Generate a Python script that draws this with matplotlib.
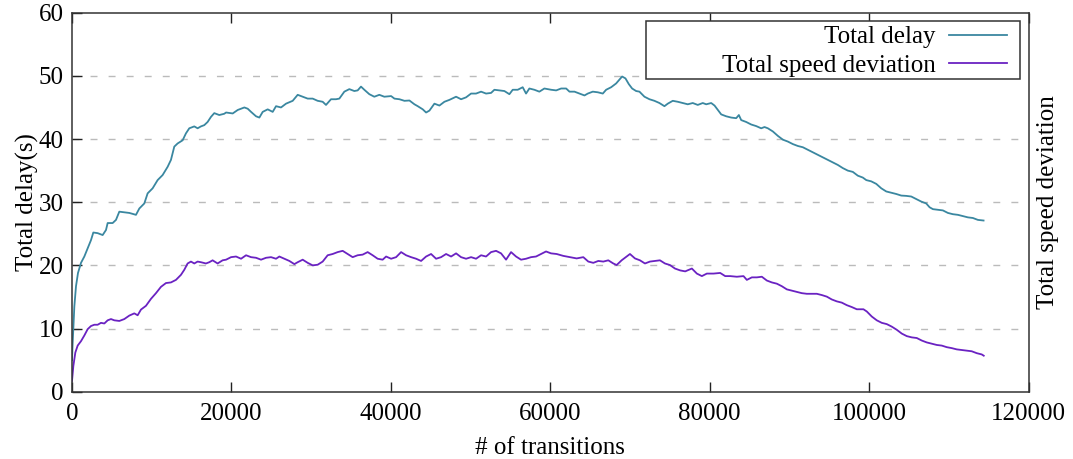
import matplotlib
matplotlib.use('Agg')
import matplotlib.pyplot as plt
from matplotlib.ticker import MultipleLocator
from matplotlib.patches import Rectangle

# Total delay
delay_x = [0, 84, 293, 502, 752, 1129, 1547, 1965, 2383, 2675, 3219, 3846, 4264, 4473, 5100, 5518, 5936, 6563, 7190, 8026,
           8444, 9071, 9489, 10116, 10743, 11370, 11997, 12415, 12833, 13251, 13878, 14296, 14714, 15341, 15759, 16177,
           16595, 17013, 17431, 17849, 18476, 19103, 19327, 20163, 20790, 21626, 22044, 22462, 23089, 23507, 23925,
           24552, 25179, 25597, 26224, 26851, 27687, 28314, 28941, 29568, 30195, 30822, 31449, 31867, 32494, 33121,
           33539, 34166, 34793, 35420, 35838, 36256, 36674, 37301, 37928, 38555, 39182, 40034, 40452, 41079, 41706,
           42333, 42960, 43378, 44005, 44423, 44841, 45468, 46095, 46722, 47349, 48185, 48812, 49439, 50066, 50693,
           51320, 51947, 52574, 52992, 53619, 54246, 54873, 55291, 55918, 56545, 56963, 57381, 58008, 58635, 59262,
           60114, 60741, 61368, 61995, 62413, 63040, 63667, 64294, 64712, 65339, 65966, 66593, 67011, 67638, 68265,
           68683, 69017, 69435, 69853, 70271, 70773, 71191, 71818, 72445, 73072, 73699, 74326, 74744, 75371, 75998,
           76625, 77252, 77879, 78506, 79133, 79567, 80194, 80612, 81030, 81448, 82075, 82702, 83329, 83663, 83956,
           84583, 85210, 85837, 86464, 86882, 87300, 87927, 88554, 89181, 89808, 90435, 91062, 91689, 92316, 92943,
           93570, 94197, 94824, 95451, 96078, 96705, 97332, 97959, 98586, 99213, 99647, 100274, 100901, 101528,
           102155, 102782, 103409, 104036, 104663, 105290, 105917, 106544, 107171, 107589, 108007, 108634, 109261,
           109888, 110515, 111142, 111769, 112396, 113023, 113650, 114361]
delay_y = [5.0, 7.7, 13.5, 16.7, 18.8, 20.4, 21.4, 22.7, 24.0, 25.2, 25.1, 24.8, 25.6, 26.7, 26.7, 27.2, 28.5, 28.4, 28.3, 28.0,
           29.0, 29.8, 31.4, 32.2, 33.5, 34.3, 35.6, 36.7, 38.8, 39.3, 39.8, 40.9, 41.7, 42.0, 41.7, 42.0,
           42.2, 42.7, 43.5, 44.1, 43.8, 44.0, 44.2, 44.05, 44.6, 45.0, 44.8, 44.3, 43.6, 43.4, 44.3,
           44.7, 44.3, 45.2, 45.0, 45.6, 46.05, 47.0, 46.7, 46.4, 46.4, 46.05, 45.9, 45.4, 46.3, 46.3,
           46.4, 47.5, 47.9, 47.6, 47.7, 48.3, 47.8, 47.1, 46.7, 47.0, 46.7, 46.8, 46.4, 46.3, 46.05,
           46.1, 45.5, 45.2, 44.7, 44.2, 44.5, 45.6, 45.3, 45.9, 46.2, 46.7, 46.3, 46.6, 47.2, 47.2,
           47.5, 47.2, 47.3, 47.8, 47.7, 47.6, 47.1, 47.8, 47.8, 48.2, 47.2, 48.0, 47.8, 47.5, 48.0,
           47.8, 47.7, 48.0, 48.0, 47.5, 47.5, 47.2, 46.9, 47.2, 47.5, 47.4, 47.2, 47.8, 48.2, 48.8,
           49.4, 49.9, 49.6, 48.7, 48.0, 47.6, 47.5, 46.7, 46.3, 46.05, 45.7, 45.2, 45.6, 46.05, 45.9,
           45.7, 45.5, 45.7, 45.4, 45.7, 45.5, 45.7, 45.3, 44.6, 43.9, 43.6, 43.4, 43.3, 43.8, 43.0,
           42.7, 42.3, 42.05, 41.7, 41.9, 41.7, 41.2, 40.5, 39.9, 39.6, 39.2, 38.9, 38.7, 38.3, 37.9,
           37.5, 37.1, 36.7, 36.3, 35.9, 35.4, 35.0, 34.8, 34.2, 33.9, 33.5, 33.3, 32.9, 32.2,
           31.7, 31.5, 31.3, 31.05, 31.0, 30.9, 30.5, 30.1, 29.8, 29.2, 28.9, 28.8, 28.7,
           28.3, 28.1, 28.0, 27.8, 27.6, 27.5, 27.2, 27.1]

# Total speed deviation
speed_x = [0, 167, 418, 711, 1129, 1547, 1965, 2383, 2801, 3219, 3637, 4055, 4473, 4891, 5309, 5936, 6563, 7190, 7817, 8235,
           8653, 9280, 9907, 10534, 11161, 11788, 12415, 13042, 13669, 14087, 14505, 14923, 15341, 15759, 16177, 16804,
           17222, 17640, 18267, 18894, 19327, 19954, 20581, 21208, 21835, 22462, 23089, 23716, 24343, 24970, 25597,
           26015, 26642, 27269, 27896, 28314, 28941, 29568, 30195, 30822, 31449, 32076, 32703, 33330, 33957, 34584,
           35211, 35838, 36465, 37092, 37719, 38346, 38973, 39407, 40034, 40661, 41288, 41915, 42542, 43169, 43796,
           44423, 45050, 45677, 46304, 46931, 47558, 48185, 48812, 49439, 50066, 50693, 51320, 51947, 52574, 53201,
           53828, 54455, 55082, 55709, 56336, 56963, 57590, 58217, 58844, 59471, 60098, 60804, 61640, 62476, 63312,
           64148, 64775, 65402, 66029, 66656, 67283, 67910, 68328, 68955, 69582, 70000, 70627, 71254, 71881, 72508,
           73135, 73762, 74389, 75016, 75643, 76304, 76931, 77767, 78394, 79021, 79648, 80484, 81320, 81947, 82574,
           83410, 84246, 84664, 85291, 85918, 86545, 87172, 87799, 88426, 89053, 89680, 90307, 90934, 91561, 92188,
           92815, 93442, 94069, 94696, 95323, 95950, 96577, 97204, 97831, 98458, 99294, 99712, 100339, 100966,
           101593, 102220, 102847, 103474, 104101, 104728, 105355, 105982, 106609, 107236, 107863, 108490, 109117,
           109744, 110371, 110998, 111625, 112252, 112879, 113506, 114133, 114384]
speed_y = [1.7, 4.05, 6.2, 7.3, 8.0, 8.9, 9.9, 10.4, 10.6, 10.6, 10.9, 10.8, 11.3, 11.5, 11.3, 11.2, 11.5, 12.05, 12.4, 12.1,
           13.0, 13.6, 14.7, 15.6, 16.6, 17.2, 17.3, 17.7, 18.5, 19.3, 20.3, 20.6, 20.3, 20.6, 20.5, 20.3,
           20.5, 20.8, 20.3, 20.8, 20.9, 21.3, 21.4, 21.05, 21.6, 21.3, 21.2, 20.9, 21.2, 21.3, 21.05,
           21.4, 21.05, 20.7, 20.2, 20.5, 20.9, 20.4, 20.0, 20.1, 20.6, 21.6, 21.8, 22.1, 22.3, 21.8,
           21.3, 21.6, 21.7, 22.1, 21.6, 21.05, 20.9, 21.4, 21.05, 21.3, 22.1, 21.6, 21.3, 21.05, 20.7,
           21.4, 21.8, 21.05, 21.3, 21.8, 21.4, 21.9, 21.3, 21.05, 21.3, 21.05, 21.6, 21.4, 22.1, 22.3,
           21.9, 20.9, 22.1, 21.4, 20.9, 21.05, 21.3, 21.4, 21.8, 22.2, 21.9, 21.8, 21.5, 21.3, 21.1,
           21.3, 20.6, 20.4, 20.7, 20.6, 20.8, 20.3, 20.05, 20.8, 21.4, 21.8, 21.1, 20.8, 20.3, 20.6,
           20.7, 20.8, 20.3, 20.05, 19.5, 19.2, 19.05, 19.5, 18.7, 18.3, 18.7, 18.7, 18.8, 18.3, 18.3,
           18.2, 18.3, 17.7, 18.1, 18.1, 18.2, 17.6, 17.3, 17.1, 16.7, 16.2, 16.0, 15.8, 15.6, 15.5,
           15.5, 15.5, 15.3, 15.05, 14.6, 14.3, 14.1, 13.7, 13.4, 13.05, 13.05, 12.7, 11.9, 11.3,
           10.9, 10.7, 10.3, 9.8, 9.2, 8.8, 8.6, 8.5, 8.1, 7.8, 7.6, 7.4, 7.3,
           7.05, 6.9, 6.7, 6.6, 6.5, 6.4, 6.1, 5.9, 5.7]

plt.rcParams['font.family'] = ['Liberation Serif', 'DejaVu Serif']
plt.rcParams['font.size'] = 18

fig = plt.figure(figsize=(10.73, 4.59), dpi=100)
ax = fig.add_axes([72 / 1073, 1 - 391.7 / 459, 956.5 / 1073, 379 / 459])

ax.plot(delay_x, delay_y, color='#3a87a0', lw=1.3, label='Total delay')
ax.plot(speed_x, speed_y, color='#6a22c2', lw=1.3, label='Total speed deviation')

ax.set_xlim(0, 120000)
ax.set_ylim(0, 60)
ax.xaxis.set_major_locator(MultipleLocator(20000))
ax.yaxis.set_major_locator(MultipleLocator(10))
ax.tick_params(direction='in', length=7, width=1, top=True, right=True, pad=8, colors='#222222')
ax.tick_params(axis='y', pad=6)
ax.tick_params(labelcolor='black')
for sp in ax.spines.values():
    sp.set_color('#333333')
    sp.set_linewidth(1.1)

for v in [10, 20, 30, 40, 50]:
    ax.axhline(v, color='#bbbbbb', lw=1, ls=(0, (5, 8)), zorder=0)

ax.set_xlabel('# of transitions', labelpad=9)
ax.set_ylabel('Total delay(s)', labelpad=0)

ax2 = ax.twinx()
ax2.set_ylim(0, 60)
ax2.set_yticks([])
ax2.set_ylabel('Total speed deviation', labelpad=6)
for sp in ax2.spines.values():
    sp.set_visible(False)

# caja de la leyenda (estilo gnuplot, con espacio a la izquierda)
caja = Rectangle((0.6001, 0.825), 0.391, 0.154, transform=ax.transAxes, facecolor='white',
                 edgecolor='#333333', lw=1.1, zorder=4.5)
ax.add_patch(caja)

leg = ax.legend(loc='upper right', bbox_to_anchor=(0.9775, 0.965), markerfirst=False, frameon=False,
                handlelength=2.32, labelspacing=0.25, borderpad=0, handletextpad=0.52, borderaxespad=0)
leg.set_zorder(5)

fig.savefig('out.png', dpi=100)
